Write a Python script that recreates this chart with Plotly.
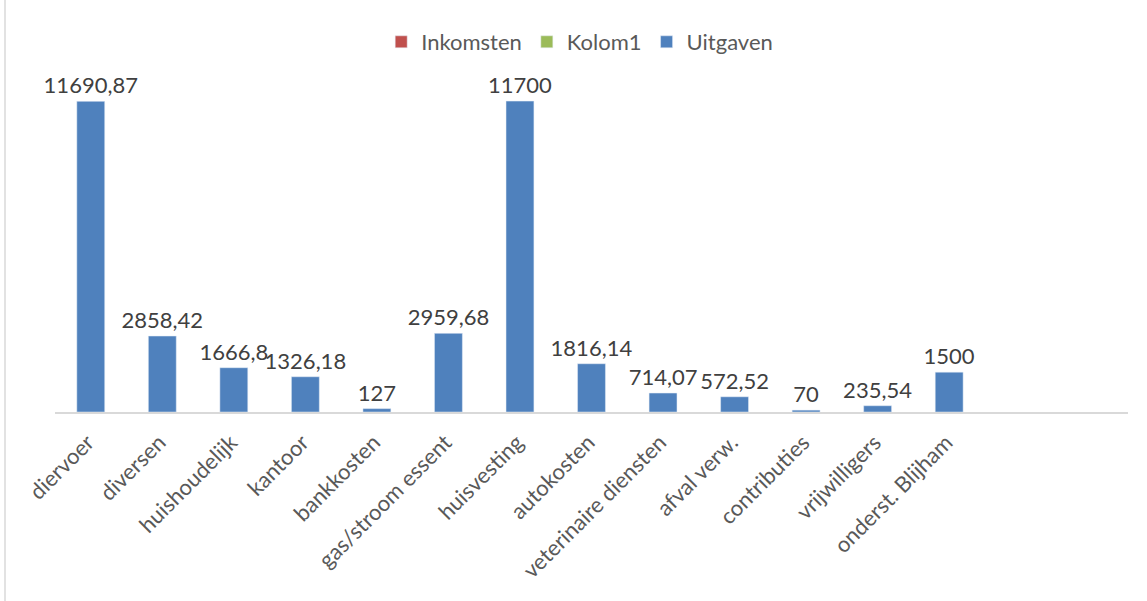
import plotly.graph_objects as go

categories = ["diervoer", "diversen", "huishoudelijk", "kantoor", "bankkosten",
              "gas/stroom essent", "huisvesting", "autokosten", "veterinaire diensten",
              "afval verw.", "contributies", "vrijwilligers", "onderst. Blijham"]
uitgaven = [11690.87, 2858.42, 1666.8, 1326.18, 127, 2959.68, 11700, 1816.14,
            714.07, 572.52, 70, 235.54, 1500]
inkomsten = [None] * len(categories)
kolom1 = [None] * len(categories)
n_slots = 15  # category slots on the axis (last two empty)


def fmt(v):
    if float(v).is_integer():
        return str(int(v))
    return repr(float(v)).replace(".", ",")


x = list(range(len(categories)))
FONT = "Lato"

fig = go.Figure()
fig.add_trace(go.Bar(name="Inkomsten", x=x, y=inkomsten, marker_color="#C0504D", width=0.39))
fig.add_trace(go.Bar(name="Kolom1", x=x, y=kolom1, marker_color="#9BBB59", width=0.39))
fig.add_trace(go.Bar(name="Uitgaven", x=x, y=uitgaven, marker_color="#4F81BD", width=0.39,
                     text=[fmt(v) for v in uitgaven], textposition="outside",
                     constraintext="none", cliponaxis=False,
                     textfont=dict(family=FONT, size=22, color="#404040")))

W, H = 1147, 601
L, R, T, B = 55, 19, 40, 189
ph = H - T - B
pw = W - L - R

fig.update_layout(
    width=W, height=H,
    margin=dict(l=L, r=R, t=T, b=B, autoexpand=False),
    barmode="overlay",
    plot_bgcolor="white", paper_bgcolor="white",
    font=dict(family=FONT, size=22, color="#595959"),
    showlegend=True,
    legend=dict(orientation="h", x=0.489, xanchor="center", y=(H - B - 42) / ph,
                yanchor="middle", font=dict(family=FONT, size=22, color="#595959"),
                itemwidth=30, bgcolor="rgba(0,0,0,0)"),
    xaxis=dict(range=[-0.5, n_slots - 0.5], tickvals=x, ticktext=categories,
               tickangle=-45, showgrid=False, zeroline=False, showline=True,
               linecolor="#D9D9D9", linewidth=2, ticks="", automargin=False,
               ticklabelstandoff=7, ticklabelshift=-3,
               tickfont=dict(family=FONT, size=22, color="#595959")),
    yaxis=dict(range=[0, 14000], visible=False, showgrid=False, zeroline=False,
               automargin=False),
    shapes=[dict(type="line", xref="paper", yref="paper",
                 x0=(5 - L) / pw, x1=(5 - L) / pw,
                 y0=(H - B) / ph, y1=(H - B - H) / ph,
                 line=dict(color="#D9D9D9", width=1.5))],
)

fig.write_html("out.html", config={"displayModeBar": False},
               post_script="document.body.style.margin='0';document.body.style.overflow='hidden';")
